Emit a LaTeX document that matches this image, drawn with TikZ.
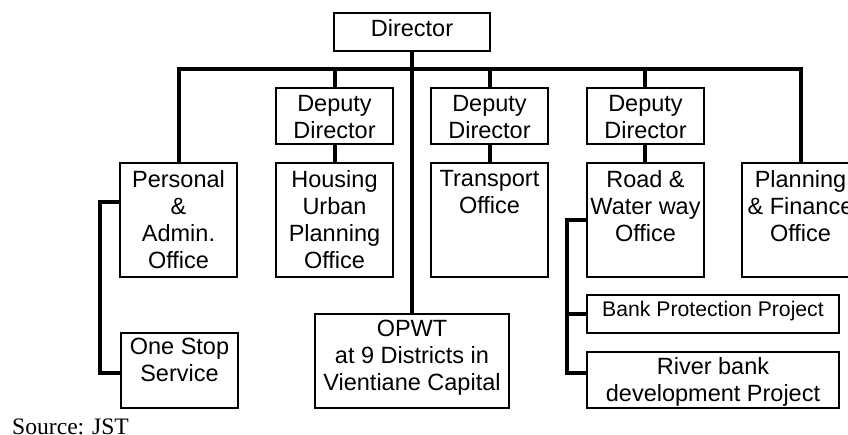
\documentclass[tikz,border=0pt]{standalone}
\usepackage{fontspec}
\setmainfont{Liberation Sans}
\newfontfamily\srcfont{Liberation Serif}
\usetikzlibrary{positioning}
\begin{document}
\begin{tikzpicture}[x=1pt,y=-1pt,
  box/.style={draw,line width=1.3pt,fill=white,inner sep=0pt,outer sep=0pt},
  unit/.style={box,minimum width=117pt,minimum height=114pt},
  deputy/.style={box,minimum width=117pt,minimum height=56pt},
  txt/.style={align=center,inner sep=0pt,font=\fontsize{23.5}{27}\selectfont},
  smalltxt/.style={align=center,inner sep=0pt,font=\fontsize{21.2}{25}\selectfont},
  link/.style={line width=3.5pt,line join=miter}]
\useasboundingbox (0,0) rectangle (848,434);
\fill[white] (0,0) rectangle (848,434);

% junction points of the connector lines
\coordinate (barL) at (179,69);
\coordinate (barR) at (801,69);
\coordinate (pa) at (100,202);
\coordinate (pb) at (100,373);
\coordinate (ra) at (567,220);
\coordinate (rb) at (567,314);
\coordinate (rc) at (567,373);

% connectors
\draw[link] (179,163) -- (barL) -- (barR) -- (801,163);
\draw[link] (412,51) -- (412,314);
\draw[link] (335,69) -- (335,163);
\draw[link] (490,69) -- (490,163);
\draw[link] (645,69) -- (645,163);
\draw[link] (120,202) -- (pa) -- (pb) -- (121,373);
\draw[link] (587,220) -- (ra) -- (rc) -- (587,373);
\draw[link] (rb) -- (587,314);

% boxes
\node[box,minimum width=156pt,minimum height=38pt] (dir) at (412,32) {};
\node[deputy] (dd1) at (334.5,116) {};
\node[deputy] (dd2) at (489.5,116) {};
\node[deputy] (dd3) at (645.5,116) {};
\node[unit] (pers) at (178.5,220) {};
\node[unit] (hous) at (334.5,220) {};
\node[unit] (trans) at (489.5,220) {};
\node[unit] (road) at (645.5,220) {};
\node[unit] (plan) at (800.5,220) {};
\node[box,minimum width=117pt,minimum height=75pt] (one) at (179.5,370.5) {};
\node[box,minimum width=194pt,minimum height=94pt] (opwt) at (412,361) {};
\node[box,minimum width=252pt,minimum height=38pt] (bank) at (713,314) {};
\node[box,minimum width=252pt,minimum height=56pt] (river) at (713,380) {};

% labels
\node[txt,below=6pt of dir.north] (dirT) {Director};
\node[txt,below=7pt of dd1.north] (dd1T) {Deputy\\Director};
\node[txt,below=7pt of dd2.north] (dd2T) {Deputy\\Director};
\node[txt,below=7pt of dd3.north] (dd3T) {Deputy\\Director};
\node[txt,below=7pt of pers.north] (persT) {Personal\\\&\\Admin.\\Office};
\node[txt,below=7pt of hous.north] (housT) {Housing\\Urban\\Planning\\Office};
\node[txt,below=7pt of trans.north] (transT) {Transport\\Office};
\node[txt,below=7pt of road.north] (roadT) {Road \&\\Water way\\Office};
\node[txt,below=7pt of plan.north] (planT) {Planning\\\& Finance\\Office};
\node[txt,below=5pt of one.north] (oneT) {One Stop\\Service};
\node[txt,below=6pt of opwt.north] (opwtT) {OPWT\\at 9 Districts in\\Vientiane Capital};
\node[smalltxt,below=6pt of bank.north] (bankT) {Bank Protection Project};
\node[txt,below=5pt of river.north] (riverT) {River bank\\development Project};

\node[anchor=base west,inner sep=0pt,font=\srcfont\fontsize{23.6}{27}\selectfont] (src) at (12,434.5) {Source: JST};
\end{tikzpicture}
\end{document}
